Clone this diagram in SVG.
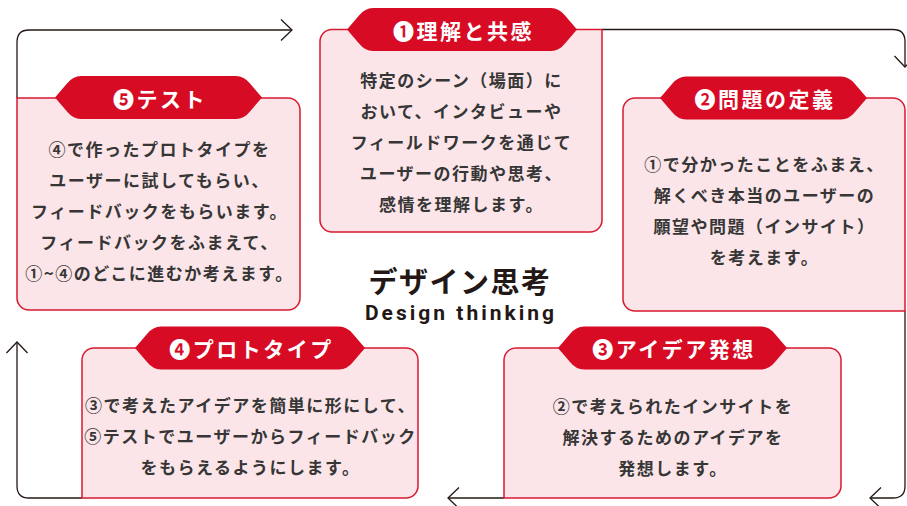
<svg xmlns="http://www.w3.org/2000/svg" width="907" height="506" viewBox="0 0 907 506">
<defs>
<style>
.box{fill:#fbe5e8;stroke:#d9192f;stroke-width:1.5}
.tab{fill:#d70c24}
.tt{font-family:"Noto Sans CJK JP","Noto Sans",sans-serif;font-size:21px;font-weight:700;fill:#fff;text-anchor:middle;dominant-baseline:central;letter-spacing:2.5px}
.bt{font-family:"Noto Sans CJK JP","Noto Sans",sans-serif;font-size:17px;font-weight:700;fill:#363636;text-anchor:middle;dominant-baseline:central;letter-spacing:1.5px}
.con{fill:none;stroke:#231815;stroke-width:1.3;marker-end:url(#chev)}
</style>
<marker id="chev" markerUnits="userSpaceOnUse" viewBox="0 0 13 24" refX="12" refY="12" markerWidth="13" markerHeight="24" orient="auto">
<path d="M1,1.5 L12,12 L1,22.5" fill="none" stroke="#231815" stroke-width="1.3"/>
</marker>
</defs>
<rect width="907" height="506" fill="#fff"/>

<g id="connectors">
<path class="con" d="M17,98 V42 Q17,30 29,30 H292"/>
<path class="con" d="M602,29.5 H893 Q905,29.5 905,41.5 V67"/>
<path class="con" d="M905,311 V486 Q905,498 893,498 H870"/>
<path class="con" d="M504,498 H448"/>
<path class="con" d="M82,498 H29 Q17,498 17,486 V342"/>
</g>

<g id="node1">
<path class="box" d="M332,29.5 H602 V220 A12,12 0 0 1 590,232 H332 A12,12 0 0 1 320,220 V41.5 A12,12 0 0 1 332,29.5 Z"/>
<path class="tab" d="M347,29.5 L359,15.5 Q365,8 373,8 H551 Q559,8 565,15.5 L577,29.5 L565,43.5 Q559,51 551,51 H373 Q365,51 359,43.5 Z"/>
<text class="tt" x="463.5" y="29.5">❶理解と共感</text>
<text class="bt" x="461.5" y="79">特定のシーン（場面）に</text>
<text class="bt" x="461.5" y="110">おいて、インタビューや</text>
<text class="bt" x="461.5" y="141">フィールドワークを通じて</text>
<text class="bt" x="461.5" y="172">ユーザーの行動や思考、</text>
<text class="bt" x="461.5" y="203">感情を理解します。</text>
</g>

<g id="node2">
<path class="box" d="M635,98 H893 A12,12 0 0 1 905,110 V311 H635 A12,12 0 0 1 623,299 V110 A12,12 0 0 1 635,98 Z"/>
<path class="tab" d="M660,98 L672,84 Q678,76.5 686,76.5 H841 Q849,76.5 855,84 L867,98 L855,112 Q849,119.5 841,119.5 H686 Q678,119.5 672,112 Z"/>
<text class="tt" x="765" y="98">❷問題の定義</text>
<text class="bt" x="764.5" y="163">①で分かったことをふまえ、</text>
<text class="bt" x="764.5" y="194">解くべき本当のユーザーの</text>
<text class="bt" x="764.5" y="225">願望や問題（インサイト）</text>
<text class="bt" x="764.5" y="256">を考えます。</text>
</g>

<g id="node3">
<path class="box" d="M516,348 H829 A12,12 0 0 1 841,360 V486 A12,12 0 0 1 829,498 H504 V360 A12,12 0 0 1 516,348 Z"/>
<path class="tab" d="M558,348 L570,334 Q576,326.5 584,326.5 H761 Q769,326.5 775,334 L787,348 L775,362 Q769,369.5 761,369.5 H584 Q576,369.5 570,362 Z"/>
<text class="tt" x="674" y="348">❸アイデア発想</text>
<text class="bt" x="673" y="405">②で考えられたインサイトを</text>
<text class="bt" x="673" y="436">解決するためのアイデアを</text>
<text class="bt" x="673" y="467">発想します。</text>
</g>

<g id="node4">
<path class="box" d="M94,348 H406 A12,12 0 0 1 418,360 V486 A12,12 0 0 1 406,498 H82 V360 A12,12 0 0 1 94,348 Z"/>
<path class="tab" d="M135,348 L147,334 Q153,326.5 161,326.5 H339 Q347,326.5 353,334 L365,348 L353,362 Q347,369.5 339,369.5 H161 Q153,369.5 147,362 Z"/>
<text class="tt" x="251.5" y="348">❹プロトタイプ</text>
<text class="bt" x="250.5" y="404">③で考えたアイデアを簡単に形にして、</text>
<text class="bt" x="250.5" y="435">⑤テストでユーザーからフィードバック</text>
<text class="bt" x="250.5" y="466">をもらえるようにします。</text>
</g>

<g id="node5">
<path class="box" d="M17,98 H288 A12,12 0 0 1 300,110 V298 A12,12 0 0 1 288,310 H29 A12,12 0 0 1 17,298 Z"/>
<path class="tab" d="M55,97.5 L67,83.5 Q73,76 81,76 H236 Q244,76 250,83.5 L262,97.5 L250,111.5 Q244,119 236,119 H81 Q73,119 67,111.5 Z"/>
<text class="tt" x="160" y="97.5">❺テスト</text>
<text class="bt" x="159.5" y="148">④で作ったプロトタイプを</text>
<text class="bt" x="159.5" y="179">ユーザーに試してもらい、</text>
<text class="bt" x="159.5" y="210">フィードバックをもらいます。</text>
<text class="bt" x="159.5" y="241">フィードバックをふまえて、</text>
<text class="bt" x="159.5" y="272">①~④のどこに進むか考えます。</text>
</g>

<g id="center">
<text x="460" y="280" font-family="Noto Sans CJK JP, sans-serif" font-size="29" font-weight="700" fill="#231815" text-anchor="middle" dominant-baseline="central" letter-spacing="1.5">デザイン思考</text>
<text x="461" y="320" font-family="Roboto, sans-serif" font-size="21" font-weight="700" fill="#231815" text-anchor="middle" letter-spacing="3">Design thinking</text>
</g>
</svg>
